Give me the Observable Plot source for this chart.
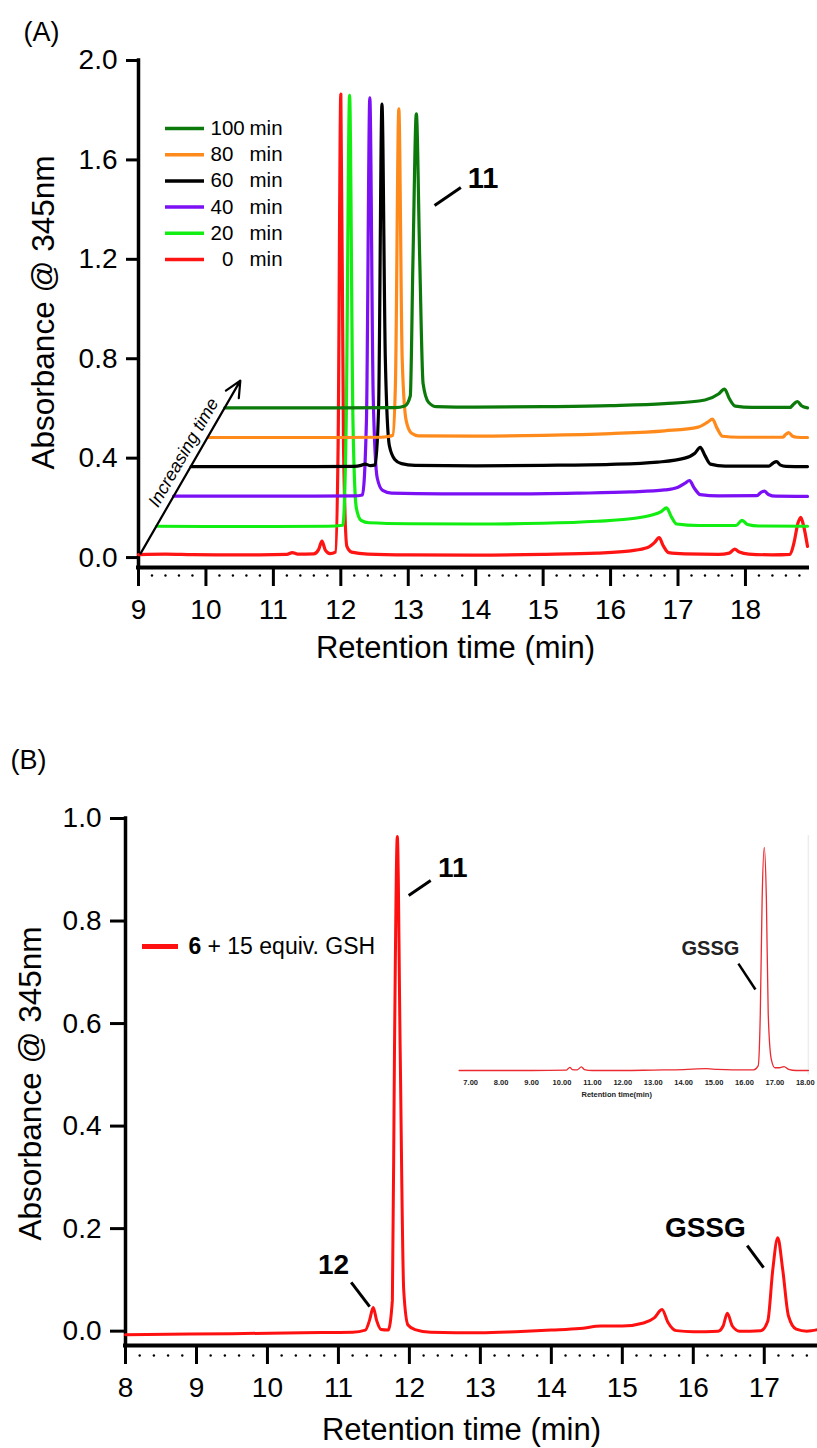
<!DOCTYPE html>
<html><head><meta charset="utf-8">
<script src="https://cdn.jsdelivr.net/npm/d3@7"></script>
<script src="https://cdn.jsdelivr.net/npm/@observablehq/plot@0.6"></script>
<style>
html,body{margin:0;padding:0;background:#fff;}
#wrap{position:relative;width:817px;height:1448px;overflow:hidden;background:#fff;}
#wrap > div{position:absolute;}
svg{overflow:visible;}
</style></head><body>
<div id="wrap">
  <div id="pa" style="left:0;top:0"></div>
  <div id="pb" style="left:0;top:690px"></div>
  <div id="pi" style="left:440px;top:830px"></div>
</div>
<script>
// ---------------- DATA ----------------
// Panel A: retention time (min), absorbance
const trace0min = [[9.00,0.012],[9.40,0.014],[9.80,0.012],[10.30,0.011],[10.80,0.011],[11.20,0.013],[11.28,0.020],[11.36,0.014],[11.60,0.015],[11.67,0.032],[11.72,0.066],[11.77,0.030],[11.84,0.016],[11.92,0.022],[11.96,0.45],[12.00,1.865],[12.04,0.45],[12.09,0.045],[12.16,0.022],[12.40,0.014],[13.00,0.011],[14.00,0.010],[15.00,0.013],[15.80,0.018],[16.30,0.027],[16.55,0.040],[16.65,0.060],[16.72,0.080],[16.78,0.048],[16.86,0.020],[17.10,0.015],[17.60,0.013],[17.76,0.018],[17.84,0.034],[17.91,0.022],[18.05,0.014],[18.40,0.011],[18.66,0.013],[18.72,0.060],[18.78,0.140],[18.82,0.162],[18.86,0.130],[18.92,0.045]];
const trace20min = [[9.27,0.126],[10.00,0.125],[11.00,0.125],[11.80,0.126],[12.03,0.130],[12.08,0.55],[12.13,1.860],[12.18,0.55],[12.23,0.20],[12.30,0.150],[12.42,0.140],[13.00,0.136],[14.00,0.135],[15.00,0.138],[15.80,0.146],[16.30,0.156],[16.60,0.170],[16.75,0.185],[16.83,0.200],[16.90,0.165],[16.98,0.135],[17.30,0.129],[17.86,0.129],[17.95,0.150],[18.03,0.133],[18.20,0.127],[18.92,0.126]];
const trace40min = [[9.52,0.247],[10.50,0.247],[11.50,0.247],[12.20,0.248],[12.32,0.252],[12.38,0.55],[12.43,1.850],[12.48,0.65],[12.54,0.32],[12.62,0.270],[12.75,0.259],[13.50,0.256],[14.50,0.256],[15.50,0.259],[16.30,0.264],[16.80,0.272],[17.00,0.283],[17.10,0.298],[17.17,0.310],[17.24,0.280],[17.33,0.253],[17.60,0.248],[18.17,0.249],[18.23,0.262],[18.28,0.267],[18.34,0.254],[18.45,0.247],[18.92,0.246]];
const trace60min = [[9.78,0.366],[10.50,0.366],[11.50,0.366],[12.20,0.367],[12.30,0.371],[12.36,0.376],[12.44,0.370],[12.51,0.373],[12.56,0.60],[12.61,1.825],[12.66,0.80],[12.72,0.45],[12.80,0.395],[12.90,0.378],[13.10,0.371],[14.00,0.369],[15.00,0.371],[16.00,0.375],[16.70,0.384],[17.10,0.400],[17.25,0.420],[17.33,0.443],[17.40,0.410],[17.48,0.376],[17.70,0.368],[18.35,0.368],[18.41,0.380],[18.46,0.386],[18.52,0.372],[18.60,0.367],[18.92,0.366]];
const trace80min = [[10.03,0.483],[11.00,0.483],[12.00,0.483],[12.60,0.484],[12.70,0.487],[12.77,0.492],[12.81,0.70],[12.86,1.805],[12.91,0.80],[12.97,0.55],[13.05,0.500],[13.15,0.490],[14.00,0.489],[15.00,0.492],[16.00,0.499],[16.80,0.510],[17.30,0.525],[17.44,0.545],[17.51,0.557],[17.58,0.520],[17.66,0.488],[17.90,0.484],[18.55,0.484],[18.60,0.496],[18.64,0.503],[18.70,0.488],[18.76,0.484],[18.92,0.483]];
const trace100min = [[10.28,0.602],[11.00,0.602],[12.00,0.602],[12.80,0.603],[12.95,0.610],[13.03,0.650],[13.07,1.20],[13.12,1.785],[13.17,1.20],[13.22,0.70],[13.30,0.625],[13.42,0.607],[14.00,0.605],[15.00,0.607],[16.00,0.611],[16.80,0.619],[17.40,0.634],[17.60,0.658],[17.69,0.678],[17.76,0.640],[17.85,0.609],[18.10,0.604],[18.66,0.604],[18.72,0.619],[18.77,0.628],[18.83,0.611],[18.92,0.602]];
const seriesNamesA = ["0 min","20 min","40 min","60 min","80 min","100 min"];
const legendNumbersA = ["100","80","60","40","20","\u20070"];
const yTicksA = [0, 0.4, 0.8, 1.2, 1.6, 2.0];
const xTicksA = [9,10,11,12,13,14,15,16,17,18];
const labelsA = [{label:"11", t:14.11, a:1.525}];
const leadersA = [{t1:13.39, a1:1.417, t2:13.78, a2:1.489}];
const arrowA = [{t1:9.03, a1:0.016, t2:10.51, a2:0.712}];
const arrowTextA = [{label:"Increasing time", t:9.667, a:0.4225}];

// Panel B
const traceB = [[8.00,-0.007],[8.60,-0.006],[9.50,-0.005],[10.50,-0.003],[11.20,-0.002],[11.38,0.002],[11.44,0.022],[11.49,0.046],[11.54,0.020],[11.60,0.003],[11.70,0.002],[11.76,0.06],[11.79,0.55],[11.83,0.965],[11.87,0.55],[11.92,0.08],[11.98,0.012],[12.08,0.003],[12.30,-0.002],[13.00,-0.003],[13.50,-0.001],[14.00,0.002],[14.40,0.005],[14.70,0.010],[15.00,0.010],[15.30,0.016],[15.45,0.026],[15.56,0.042],[15.64,0.018],[15.76,0.001],[16.00,-0.001],[16.35,0.000],[16.42,0.010],[16.48,0.035],[16.55,0.010],[16.65,0.000],[16.95,0.001],[17.05,0.020],[17.12,0.120],[17.19,0.182],[17.26,0.120],[17.34,0.030],[17.45,0.004],[17.60,0.000],[17.75,0.003]];
const yTicksB = [0, 0.2, 0.4, 0.6, 0.8, 1.0];
const xTicksB = [8,9,10,11,12,13,14,15,16,17];
const labelsB = [{label:"11", t:12.61, a:0.904},{label:"12", t:10.93, a:0.128},{label:"GSSG", t:16.17, a:0.202}];
const leadersB = [{t1:11.99,a1:0.850,t2:12.30,a2:0.879},{t1:11.18,a1:0.095,t2:11.44,a2:0.048},{t1:16.76,a1:0.167,t2:16.99,a2:0.124}];
const legendB = ["6", "+ 15 equiv. GSH"];

// Inset (relative absorbance)
const traceInset = [[6.62,0.000],[8.00,0.000],[9.00,0.000],[10.15,0.002],[10.26,0.014],[10.34,0.004],[10.50,0.003],[10.64,0.016],[10.74,0.004],[11.00,0.000],[12.00,0.000],[13.00,0.002],[14.00,0.004],[14.75,0.008],[15.10,0.005],[15.60,0.003],[16.30,0.003],[16.45,0.020],[16.52,0.25],[16.58,0.75],[16.65,0.978],[16.72,0.75],[16.78,0.25],[16.88,0.05],[17.00,0.012],[17.15,0.012],[17.30,0.017],[17.45,0.005],[17.70,0.000],[18.10,0.000]];
const xTicksInset = [7,8,9,10,11,12,13,14,15,16,17,18];
const labelsInset = [{label:"GSSG", t:14.88, a:0.535}];
const leadersInset = [{t1:15.80, a1:0.469, t2:16.36, a2:0.355}];

// ---------------- STYLE ----------------
const FONT = '"Liberation Sans", Arial, Helvetica, sans-serif';
const COLORS_A = ["#ff1414", "#12ee12", "#7b10f5", "#000000", "#ff8a1c", "#0b7a0b"];
const RED_B = "#ff1010";

// scales (layout)
const sxA = d3.scaleLinear([9, 18.92], [138, 807]);
const syA = d3.scaleLinear([-0.04, 2.0], [567, 60]);
const sxB = d3.scaleLinear([8, 17.75], [125, 817]);
const syB = d3.scaleLinear([-0.028, 1.0], [655, 128]);

const tracesA = [trace0min, trace20min, trace40min, trace60min, trace80min, trace100min];
const minorA = d3.range(9.2, 18.9, 0.2).filter(v => Math.abs(v - Math.round(v)) > 0.05);
const minorB = d3.range(8.2, 17.7, 0.2).filter(v => Math.abs(v - Math.round(v)) > 0.05);

// ---------------- PANEL A ----------------
const arrowAngle = Math.atan2(syA(arrowA[0].a2) - syA(arrowA[0].a1), sxA(arrowA[0].t2) - sxA(arrowA[0].t1)) * 180 / Math.PI;
const legendRowsA = legendNumbersA.map((n, i) => ({n, color: COLORS_A[5 - i], a: syA.invert(128 + i * 26.2)}));

const marksA = [
  Plot.ruleX([9], {y1: -0.04, y2: 2.0, strokeWidth: 3.5, strokeLinecap: "square"}),
  Plot.ruleY([-0.04], {x1: 9, x2: 18.92, strokeWidth: 4, strokeLinecap: "square"}),
  Plot.axisY({ticks: yTicksA, tickFormat: d3.format(".1f"), tickSize: 12, tickPadding: 9, fontSize: 28, strokeWidth: 3, label: null}),
  Plot.axisX({ticks: xTicksA, tickFormat: d => String(d), tickSize: 19, tickPadding: 13, fontSize: 28, strokeWidth: 3, label: null}),
  Plot.dot(minorA, {x: d => d, frameAnchor: "bottom", dy: 8, r: 1.2, fill: "black", stroke: null}),
  ...tracesA.map((tr, i) => Plot.line(tr, {x: d => d[0], y: d => d[1], stroke: COLORS_A[i], strokeWidth: 3.2, curve: "monotone-x"})),
  Plot.arrow(arrowA, {x1: "t1", y1: "a1", x2: "t2", y2: "a2", strokeWidth: 2.2, headLength: 12, headAngle: 50}),
  Plot.text(arrowTextA, {x: "t", y: "a", text: "label", rotate: arrowAngle, fontStyle: "italic", fontSize: 18, textAnchor: "middle", lineAnchor: "middle"}),
  Plot.link(leadersA, {x1: "t1", y1: "a1", x2: "t2", y2: "a2", strokeWidth: 3, stroke: "black"}),
  Plot.text(labelsA, {x: "t", y: "a", text: "label", fontWeight: "bold", fontSize: 29}),
  ...legendRowsA.map(r => Plot.ruleY([r.a], {x1: sxA.invert(165), x2: sxA.invert(204), stroke: r.color, strokeWidth: 3.5})),
  Plot.text(legendRowsA, {x: () => sxA.invert(210), y: "a", text: "n", textAnchor: "start", fontSize: 20.5}),
  Plot.text(legendRowsA, {x: () => sxA.invert(249), y: "a", text: () => "min", textAnchor: "start", fontSize: 20.5}),
  Plot.text(["(A)"], {frameAnchor: "top-left", dx: 23 - 138, dy: 32 - 60, textAnchor: "start", lineAnchor: "middle", fontSize: 27}),
  Plot.text(["Absorbance @ 345nm"], {frameAnchor: "left", dx: 43 - 138, dy: 312 - 313.5, rotate: -90, textAnchor: "middle", lineAnchor: "middle", fontSize: 31.5}),
  Plot.text(["Retention time (min)"], {frameAnchor: "bottom", dx: 455 - 472.5, dy: 648 - 567, textAnchor: "middle", lineAnchor: "middle", fontSize: 31})
];

const chartA = Plot.plot({
  width: 817, height: 680,
  marginTop: 60, marginBottom: 113, marginLeft: 138, marginRight: 10,
  x: {domain: sxA.domain(), range: sxA.range()},
  y: {domain: syA.domain(), range: syA.range()},
  style: {fontFamily: FONT, background: "transparent", color: "black", overflow: "visible"},
  marks: marksA
});
document.getElementById("pa").append(chartA);

// ---------------- PANEL B ----------------
const marksB = [
  Plot.ruleX([8], {y1: -0.028, y2: 1.0, strokeWidth: 3.5, strokeLinecap: "square"}),
  Plot.ruleY([-0.028], {x1: 8, x2: 17.75, strokeWidth: 4, strokeLinecap: "square"}),
  Plot.axisY({ticks: yTicksB, tickFormat: d3.format(".1f"), tickSize: 15, tickPadding: 9, fontSize: 28, strokeWidth: 3, label: null}),
  Plot.axisX({ticks: xTicksB, tickFormat: d => String(d), tickSize: 19, tickPadding: 13, fontSize: 28, strokeWidth: 3, label: null}),
  Plot.dot(minorB, {x: d => d, frameAnchor: "bottom", dy: 10, r: 1.2, fill: "black", stroke: null}),
  Plot.line(traceB, {x: d => d[0], y: d => d[1], stroke: RED_B, strokeWidth: 3, curve: "monotone-x"}),
  Plot.link(leadersB, {x1: "t1", y1: "a1", x2: "t2", y2: "a2", strokeWidth: 3, stroke: "black"}),
  Plot.text(labelsB, {x: "t", y: "a", text: "label", fontWeight: "bold", fontSize: 28}),
  Plot.ruleY([syB.invert(256)], {x1: sxB.invert(142), x2: sxB.invert(178), stroke: RED_B, strokeWidth: 5}),
  Plot.text([legendB[0]], {x: () => sxB.invert(188), y: () => syB.invert(256), textAnchor: "start", fontWeight: "bold", fontSize: 23}),
  Plot.text([legendB[1]], {x: () => sxB.invert(207), y: () => syB.invert(256), textAnchor: "start", fontSize: 23}),
  Plot.text(["(B)"], {frameAnchor: "top-left", dx: 10 - 125, dy: (760 - 690) - 128, textAnchor: "start", lineAnchor: "middle", fontSize: 27}),
  Plot.text(["Absorbance @ 345nm"], {frameAnchor: "left", dx: 30 - 125, dy: (1083 - 690) - 391.5, rotate: -90, textAnchor: "middle", lineAnchor: "middle", fontSize: 31.5}),
  Plot.text(["Retention time (min)"], {frameAnchor: "bottom", dx: 461 - 471, dy: (1430 - 690) - 655, textAnchor: "middle", lineAnchor: "middle", fontSize: 31})
];

const chartB = Plot.plot({
  width: 817, height: 758,
  marginTop: 128, marginBottom: 103, marginLeft: 125, marginRight: 0,
  x: {domain: sxB.domain(), range: sxB.range()},
  y: {domain: syB.domain(), range: syB.range()},
  style: {fontFamily: FONT, background: "transparent", color: "black", overflow: "visible"},
  marks: marksB
});
document.getElementById("pb").append(chartB);

// ---------------- INSET ----------------
const chartI = Plot.plot({
  width: 377, height: 280,
  marginTop: 12, marginBottom: 40, marginLeft: 18, marginRight: 0,
  x: {domain: [6.6, 18.4], range: [18, 377]},
  y: {domain: [0, 1], range: [240, 12], axis: null},
  style: {fontFamily: FONT, background: "transparent", color: "#222", overflow: "visible"},
  marks: [
    Plot.ruleX([18.1], {y1: -0.02, y2: 1.03, stroke: "#ececec", strokeWidth: 1.5}),
    Plot.axisX({ticks: xTicksInset, tickFormat: d3.format(".2f"), tickSize: 0, tickPadding: 9, fontSize: 7.5, fontWeight: "bold", label: null}),
    Plot.text(["Retention time(min)"], {x: () => 11.8, frameAnchor: "bottom", dy: 24, lineAnchor: "middle", fontSize: 7.5, fontWeight: "bold"}),
    Plot.line(traceInset, {x: d => d[0], y: d => d[1], stroke: "#ea2a30", strokeWidth: 1.3, curve: "monotone-x"}),
    Plot.link(leadersInset, {x1: "t1", y1: "a1", x2: "t2", y2: "a2", strokeWidth: 2.5, stroke: "black"}),
    Plot.text(labelsInset, {x: "t", y: "a", text: "label", fontWeight: "bold", fontSize: 20})
  ]
});
document.getElementById("pi").append(chartI);
</script>
</body></html>
